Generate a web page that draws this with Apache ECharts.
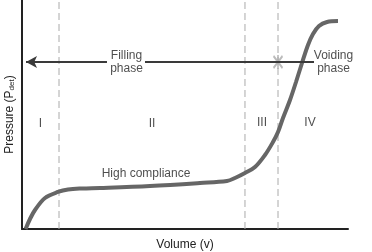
<!DOCTYPE html>
<html>
<head>
<meta charset="utf-8">
<script src="https://cdn.jsdelivr.net/npm/echarts@6/dist/echarts.min.js"></script>
<style>html,body{margin:0;padding:0;background:#fff}#c{width:372px;height:252px}</style>
</head>
<body>
<div id="c"></div>
<script>
// Curve (volume vs detrusor pressure), arbitrary 0-100 units
const volume   = [1.1, 2.45, 3.99, 7.06, 11.04, 14.11, 18.40, 23.93, 39.26, 54.60, 62.88, 65.34, 68.40, 71.47, 74.54, 76.99, 78.53, 80.06, 82.21, 84.05, 85.89, 87.73, 89.26, 91.10, 93.56, 96.93];
const pressure = [0, 4.37, 8.30, 13.54, 16.16, 17.25, 17.69, 17.90, 18.78, 20.09, 20.96, 22.27, 24.45, 27.07, 32.31, 37.99, 42.36, 48.47, 56.33, 64.19, 72.49, 80.35, 85.15, 88.65, 90.39, 90.83];
// Phase boundaries (volume)
const boundaries = [11.35, 68.40, 78.53];
// Phase labels
const phaseNames = ['I', 'II', 'III', 'IV'];
const phaseNameX = [5.67, 39.88, 73.62, 88.34];
const phaseNameY = [45.9, 45.9, 46.3, 46.3];
// Filling/voiding arrow level and segments
const arrowLevel = 72.9;
const fillArrowX = [26.07, 1.23];
const midLineX = [37.73, 89.57];
const voidArrowX = [101.8, 106.7];
const fillText = 'Filling\nphase';
const voidText = 'Voiding\nphase';
const fillTextX = 32.06, voidTextX = 95.55;
const complianceText = 'High compliance';
const complianceX = 38.04, complianceY = 24.0;
// Transition marker (onset of voiding)
const markerX = 78.53, markerY = 72.9;

const font = '"Liberation Sans", Arial, sans-serif';
const txt = '#222';

const curveData = volume.map((v, i) => [v, pressure[i]]);

const series = [];
boundaries.forEach(b => {
  series.push({
    type: 'line', data: [[b, 0], [b, 100]], symbol: 'none', silent: true,
    lineStyle: { color: '#aaa', width: 1, type: [7, 4] }, z: 1
  });
});
series.push({
  type: 'line', data: curveData, smooth: 0.35, symbol: 'none',
  lineStyle: { color: '#666', width: 4 }, z: 3
});
series.push({
  type: 'line', data: [], clip: false, symbol: 'none',
  markLine: {
    silent: true, animation: false,
    label: { show: false },
    lineStyle: { color: '#3a3a3a', width: 2, type: 'solid' },
    symbol: ['none', 'arrow'], symbolSize: [9, 11],
    data: [
      [{ coord: [fillArrowX[0], arrowLevel] }, { coord: [fillArrowX[1], arrowLevel] }],
      [{ coord: [midLineX[0], arrowLevel], symbol: 'none' }, { coord: [midLineX[1], arrowLevel], symbol: 'none' }],
      [{ coord: [voidArrowX[0], arrowLevel] }, { coord: [voidArrowX[1], arrowLevel] }]
    ]
  }, z: 2
});
series.push({
  type: 'scatter', data: [[markerX, markerY]],
  symbol: 'path://M4,0 L4,14 M0,1 L8,13 M8,1 L0,13', symbolSize: [9, 14],
  itemStyle: { color: 'rgba(0,0,0,0)', borderColor: '#aaa', borderWidth: 2 }, z: 4
});
const labelItems = [];
phaseNames.forEach((n, i) => labelItems.push({ value: [phaseNameX[i], phaseNameY[i]], name: n }));
labelItems.push({ value: [complianceX, complianceY], name: complianceText });
labelItems.push({ value: [fillTextX, arrowLevel], name: fillText });
labelItems.push({ value: [voidTextX, arrowLevel], name: voidText });
series.push({
  type: 'scatter', data: labelItems, symbolSize: 0, clip: false, silent: true,
  label: { show: true, position: 'inside', formatter: p => p.name, color: txt, fontSize: 12, fontFamily: font, lineHeight: 13, align: 'center', verticalAlign: 'middle' },
  z: 5
});

const chart = echarts.init(document.getElementById('c'));
chart.setOption({
  animation: false,
  grid: { left: 22, right: 24, top: 0, bottom: 23, containLabel: false, outerBoundsMode: 'none' },
  xAxis: {
    type: 'value', min: 0, max: 100,
    name: 'Volume (v)', nameLocation: 'middle', nameGap: 10,
    nameTextStyle: { color: txt, fontSize: 12, fontFamily: font },
    axisLine: { show: true, lineStyle: { color: '#222', width: 2 } },
    axisTick: { show: false }, axisLabel: { show: false }, splitLine: { show: false }
  },
  yAxis: {
    type: 'value', min: 0, max: 100,
    name: '{a|Pressure (P}{s|det}{a|)}', nameLocation: 'middle', nameGap: 6, nameRotate: 90,
    nameTextStyle: {
      rich: {
        a: { color: txt, fontSize: 12, fontFamily: font },
        s: { color: txt, fontSize: 8, fontFamily: font, padding: [5, 0, 0, 0] }
      }
    },
    axisLine: { show: true, lineStyle: { color: '#222', width: 2 } },
    axisTick: { show: false }, axisLabel: { show: false }, splitLine: { show: false }
  },
  series: series
});
</script>
</body>
</html>
